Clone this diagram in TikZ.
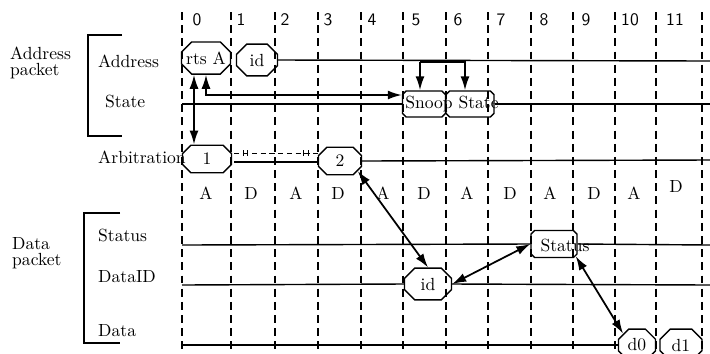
\documentclass[tikz,border=0pt]{standalone}
\usepackage{tikz}
\usetikzlibrary{shapes.misc,arrows.meta,positioning,calc}

\begin{document}
\begin{tikzpicture}[x=0.02cm, y=-0.02cm,
    sig/.style={chamfered rectangle, chamfered rectangle xsep=1.3pt, chamfered rectangle ysep=4.5pt, draw, thick, minimum height=0.52cm, inner sep=1pt},
    lane/.style={line width=0.8pt},
    grid/.style={thick, dash pattern=on 4.5pt off 3pt},
    arrow/.style={line width=1pt, <->, >={Latex[length=2.8mm,width=1.8mm]}},
    lbl/.style={anchor=west, align=left}]

    \useasboundingbox (0,0) rectangle (710,353);

    % clock columns
    \foreach \x in {182,231,275,318,361,403,446,488,531,573,615,656,702}
        \draw[grid] (\x,12) -- (\x,353);
    \foreach \x/\n in {197/0,241/1,285/2,328/3,372/4,416/5,458/6,501/7,544/8,586/9,630/10,675/11}
        \node[font=\sffamily] at (\x,20) {\n};
    \foreach \x/\t in {206/A,251/D,296/A,338/D,383/A,424/D,467/A,510/D,550/A,594/D,634/A}
        \node at (\x,193) {\t};
    \node at (676,186) {D};

    % left labels
    \node[lbl] (addrpk) at (4,63) {Address\\[-3pt]packet};
    \node[lbl] (datapk) at (6,253) {Data\\[-3pt]packet};
    \draw[semithick] (122,35) -- (88,35) -- (88,136) -- (122,136);
    \draw[semithick] (120,213) -- (84,213) -- (84,343) -- (120,343);
    \node[lbl] (laddr) at (92,61) {Address};
    \node[lbl] (lstate) at (99,101) {State};
    \node[lbl] (larb) at (92,157) {Arbitration};
    \node[lbl] (lstatus) at (92,235) {Status};
    \node[lbl] (ldataid) at (92,277) {DataID};
    \node[lbl] (ldata) at (92,331) {Data};

    % transfers
    \node[sig, minimum width=0.98cm] (rtsa) at (206,58) {rts A};
    \node[sig, minimum width=0.82cm, minimum height=0.48cm] (addrid) at (257,60) {id};
    \node[sig, minimum width=0.86cm] (snoopa) at (424,104) {};
    \node[sig, minimum width=0.96cm] (snoopb) at (470,104) {};
    \node (snooptxt) at (452,104) {Snoop State};
    \node[sig, minimum width=0.98cm] (arba) at (207,159) {1};
    \node[sig, minimum width=0.86cm] (arbb) at (340,161) {2};
    \node[sig, minimum width=0.94cm, minimum height=0.54cm] (dataid) at (428,284) {id};
    \node[sig, minimum width=0.92cm, minimum height=0.54cm] (status) at (554,244) {};
    \node (statustxt) at (565,245) {Status};
    \node[sig, minimum width=0.74cm, minimum height=0.48cm] (dzero) at (637,345) {d0};
    \node[sig, minimum width=0.84cm, minimum height=0.48cm] (done) at (681,345) {d1};

    % signal lines
    \coordinate (addrR) at (710,61);
    \coordinate (stateL) at (182,104);
    \coordinate (stateR) at (710,104);
    \coordinate (arbR) at (710,160);
    \coordinate (statusL) at (182,245);
    \coordinate (statusR) at (710,245);
    \coordinate (idL) at (182,285);
    \coordinate (idR) at (710,285);
    \coordinate (dataL) at (182,345);
    \draw[lane] (addrid.east) -- (addrR);
    \draw[lane] (stateL) -- (snoopa.west);
    \draw[lane] (snoopb.east) -- (stateR);
    \draw[lane] ($(arba.east)+(2,3)$) -- ($(arbb.west)+(0,1)$);
    \draw[lane] (arbb.east) -- (arbR);
    \draw[lane] (statusL) -- (status.west);
    \draw[lane] (status.east) -- (statusR);
    \draw[lane] (idL) -- (dataid.west);
    \draw[lane] (dataid.east) -- (idR);
    \draw[lane] (dataL) -- (dzero.west);

    % arbitration wait
    \draw[densely dashed] ($(arba.east)+(2,-6)$) -- ($(arbb.west)+(0,-8)$);
    \foreach \x in {243,247,303,308}
        \draw (\x,150) -- (\x,156);

    % dependencies
    \draw[arrow] ($(rtsa.south)+(-12,0)$) -- ($(arba.north)+(-13,0)$);
    \draw[arrow] (rtsa.south) |- ($(snoopa.west)+(0,-9)$);
    \coordinate (tap) at (420,62);
    \draw[arrow, ->] (tap) -- (tap |- snoopa.north);
    \draw[arrow, ->] (tap) -| ($(snoopb.north)+(-5,0)$);
    \draw[arrow] (arbb.south east) -- (dataid.north);
    \draw[arrow] (dataid.east) -- (status.west);
    \draw[arrow] (status.south east) -- (dzero.north west);

\end{tikzpicture}
\end{document}
